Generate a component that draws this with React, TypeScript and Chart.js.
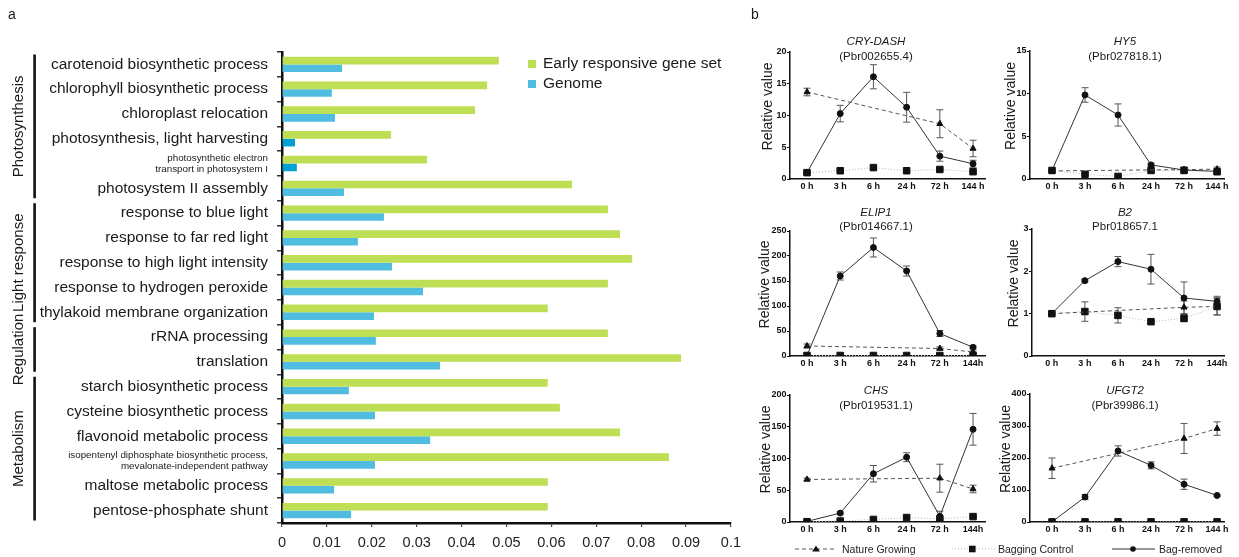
import React, { useEffect, useRef } from 'react';
import { Chart, registerables } from 'chart.js';
Chart.register(...registerables);

const FONT = '"Liberation Sans", Arial, Helvetica, sans-serif';

// ---------- Panel a data ----------
const categories: (string | string[])[] = [
  'carotenoid biosynthetic process',
  'chlorophyll biosynthetic process',
  'chloroplast relocation',
  'photosynthesis, light harvesting',
  ['photosynthetic electron', 'transport in photosystem I'],
  'photosystem II assembly',
  'response to blue light',
  'response to far red light',
  'response to high light intensity',
  'response to hydrogen peroxide',
  'thylakoid membrane organization',
  'rRNA processing',
  'translation',
  'starch biosynthetic process',
  'cysteine biosynthetic process',
  'flavonoid metabolic process',
  ['isopentenyl diphosphate biosynthetic process,', 'mevalonate-independent pathway'],
  'maltose metabolic process',
  'pentose-phosphate shunt',
];
const earlyResponsive = [0.0483, 0.0457, 0.043, 0.0243, 0.0323, 0.0646, 0.0726, 0.0753, 0.078, 0.0726, 0.0592, 0.0726, 0.0889, 0.0592, 0.0619, 0.0753, 0.0862, 0.0592, 0.0592];
const genome = [0.0134, 0.0111, 0.0118, 0.0029, 0.0033, 0.0138, 0.0227, 0.0169, 0.0245, 0.0314, 0.0205, 0.0209, 0.0352, 0.0149, 0.0207, 0.033, 0.0207, 0.0116, 0.0154];
const darkGenomeRows = [3, 4];
const groupNames = ['Photosynthesis', 'Light response', 'Regulation', 'Metabolism'];
const groupStart = [0, 6, 11, 13];
const groupEnd = [5, 10, 12, 18];
const xTickStep = 0.01;

// ---------- Panel b data ----------
const timeLabelsA = ['0 h', '3 h', '6 h', '24 h', '72 h', '144 h'];
const timeLabelsB = ['0 h', '3 h', '6 h', '24 h', '72 h', '144h'];
const seriesNames = ['Nature Growing', 'Bagging Control', 'Bag-removed'];

const cryBagRemoved = [1.0, 10.3, 16.1, 11.3, 3.6, 2.4];
const cryBagRemovedSd = [0.05, 1.3, 1.9, 2.35, 0.8, 0.55];
const cryNature = [13.7, null, null, null, 8.7, 4.8];
const cryNatureSd = [0.6, null, null, null, 2.2, 1.3];
const cryBagging = [1.0, 1.3, 1.8, 1.3, 1.5, 1.15];
const cryBaggingSd = [0.1, 0.1, 0.15, 0.1, 0.1, 0.1];

const hy5BagRemoved = [1.0, 9.85, 7.5, 1.65, 1.05, 0.9];
const hy5BagRemovedSd = [0.1, 0.85, 1.3, 0.2, 0.35, 0.2];
const hy5Nature = [0.95, null, null, null, 1.1, 1.15];
const hy5NatureSd = [0.1, null, null, null, 0.2, 0.25];
const hy5Bagging = [1.0, 0.55, 0.3, 1.0, 1.0, 0.85];
const hy5BaggingSd = [0.05, 0.1, 0.05, 0.1, 0.1, 0.1];

const elipBagRemoved = [1, 160, 217, 170, 45, 17.5];
const elipBagRemovedSd = [0.5, 8, 19, 10, 6, 3];
const elipNature = [20, null, null, null, 15, 8];
const elipNatureSd = [4, null, null, null, 3, 2];
const elipBagging = [1, 1, 1, 1, 1, 1];
const elipBaggingSd = [0.2, 0.2, 0.2, 0.2, 0.2, 0.2];

const b2BagRemoved = [1.0, 1.78, 2.23, 2.05, 1.37, 1.29];
const b2BagRemovedSd = [0.03, 0.03, 0.12, 0.35, 0.38, 0.12];
const b2Nature = [1.0, null, null, null, 1.15, 1.17];
const b2NatureSd = [0.05, null, null, null, 0.15, 0.2];
const b2Bagging = [1.0, 1.05, 0.96, 0.81, 0.89, 1.17];
const b2BaggingSd = [0.03, 0.23, 0.18, 0.03, 0.08, 0.2];

const chsBagRemoved = [1, 14, 76, 102, 9, 146];
const chsBagRemovedSd = [0.5, 2, 13, 7, 8, 25];
const chsNature = [67, null, null, null, 69, 52];
const chsNatureSd = [2, null, null, null, 22, 6];
const chsBagging = [0.5, 1.5, 4, 7, 5, 8.5];
const chsBaggingSd = [0.3, 0.3, 1, 1, 1, 1];

const ufgtBagRemoved = [0.5, 78, 222, 177, 118, 83];
const ufgtBagRemovedSd = [0.5, 8, 16, 11, 16, 3];
const ufgtNature = [168, null, null, null, 261, 292];
const ufgtNatureSd = [32, null, null, null, 47, 21];
const ufgtBagging = [0.3, 0.5, 0.5, 0.5, 0.5, 0.5];
const ufgtBaggingSd = [0, 0, 0, 0, 0, 0];

const subplots = [
  { gene: 'CRY-DASH', acc: '(Pbr002655.4)', yMax: 20, yStep: 5, labels: timeLabelsA,
    br: cryBagRemoved, brSd: cryBagRemovedSd, ng: cryNature, ngSd: cryNatureSd, bc: cryBagging, bcSd: cryBaggingSd,
    area: [790, 52, 985, 179], xr: [-0.512, 5.36], titleX: 876, titleY: [41, 56], yTitleOff: 22 },
  { gene: 'HY5', acc: '(Pbr027818.1)', yMax: 15, yStep: 5, labels: timeLabelsA,
    br: hy5BagRemoved, brSd: hy5BagRemovedSd, ng: hy5Nature, ngSd: hy5NatureSd, bc: hy5Bagging, bcSd: hy5BaggingSd,
    area: [1030, 51, 1224, 179], xr: [-0.667, 5.21], titleX: 1125, titleY: [41, 56], yTitleOff: 19 },
  { gene: 'ELIP1', acc: '(Pbr014667.1)', yMax: 250, yStep: 50, labels: timeLabelsB,
    br: elipBagRemoved, brSd: elipBagRemovedSd, ng: elipNature, ngSd: elipNatureSd, bc: elipBagging, bcSd: elipBaggingSd,
    area: [790, 231, 985, 356], xr: [-0.512, 5.36], titleX: 876, titleY: [212, 226], yTitleOff: 25 },
  { gene: 'B2', acc: 'Pbr018657.1', yMax: 3, yStep: 1, labels: timeLabelsB,
    br: b2BagRemoved, brSd: b2BagRemovedSd, ng: b2Nature, ngSd: b2NatureSd, bc: b2Bagging, bcSd: b2BaggingSd,
    area: [1032, 229, 1224, 356], xr: [-0.6, 5.21], titleX: 1125, titleY: [212, 226], yTitleOff: 18 },
  { gene: 'CHS', acc: '(Pbr019531.1)', yMax: 200, yStep: 50, labels: timeLabelsB,
    br: chsBagRemoved, brSd: chsBagRemovedSd, ng: chsNature, ngSd: chsNatureSd, bc: chsBagging, bcSd: chsBaggingSd,
    area: [790, 395, 985, 522], xr: [-0.512, 5.36], titleX: 876, titleY: [390, 405], yTitleOff: 24 },
  { gene: 'UFGT2', acc: '(Pbr39986.1)', yMax: 400, yStep: 100, labels: timeLabelsA,
    br: ufgtBagRemoved, brSd: ufgtBagRemovedSd, ng: ufgtNature, ngSd: ufgtNatureSd, bc: ufgtBagging, bcSd: ufgtBaggingSd,
    area: [1030, 394, 1224, 522], xr: [-0.667, 5.21], titleX: 1125, titleY: [390, 405], yTitleOff: 24 },
];

const GREEN = '#bedf55';
const BLUE = '#50bde0';
const DARK_BLUE = '#02a1d3';

// ---------- Panel a ----------
const groupPlugin = {
  id: 'groupsAndLegend',
  afterDraw(chart: any) {
    const { ctx } = chart;
    const y = chart.scales.y;
    const step = y.getPixelForValue(1) - y.getPixelForValue(0);
    ctx.save();
    groupNames.forEach((name, g) => {
      const top = y.getPixelForValue(groupStart[g]) - step / 2 + 2.5;
      const bot = y.getPixelForValue(groupEnd[g]) + step / 2 - 2.5;
      ctx.fillStyle = '#111';
      ctx.fillRect(33.3, top, 2.6, bot - top);
      ctx.save();
      ctx.translate(18.5, (top + bot) / 2);
      ctx.rotate(-Math.PI / 2);
      ctx.font = `15px ${FONT}`;
      ctx.textAlign = 'center';
      ctx.textBaseline = 'middle';
      ctx.fillStyle = '#1a1a1a';
      ctx.fillText(name, 0, 0);
      ctx.restore();
    });
    // legend
    const items = chart.data.datasets.map((d: any) => d.label);
    const cols = [GREEN, BLUE];
    items.forEach((label: string, i: number) => {
      const cy = 64 + i * 20;
      ctx.fillStyle = cols[i];
      ctx.fillRect(528, cy - 4, 8, 8);
      ctx.fillStyle = '#1a1a1a';
      ctx.font = `15.5px ${FONT}`;
      ctx.textAlign = 'left';
      ctx.textBaseline = 'middle';
      ctx.fillText(label, 543, cy);
    });
    ctx.restore();
  },
};

const PANEL_A_W = 748;

function PanelA() {
  const ref = useRef<HTMLCanvasElement>(null);
  useEffect(() => {
    const chart = new Chart(ref.current!, {
      type: 'bar',
      data: {
        labels: categories as any,
        datasets: [
          { label: 'Early responsive gene set', data: earlyResponsive, backgroundColor: GREEN, categoryPercentage: 0.62, barPercentage: 1 },
          { label: 'Genome', data: genome, backgroundColor: genome.map((_, i) => (darkGenomeRows.includes(i) ? DARK_BLUE : BLUE)), categoryPercentage: 0.62, barPercentage: 1 },
        ],
      },
      options: {
        indexAxis: 'y',
        animation: false,
        responsive: false,
        layout: { padding: { top: 52, right: 10, left: 0, bottom: 0 } },
        plugins: { legend: { display: false }, tooltip: { enabled: false } },
        scales: {
          x: {
            type: 'linear', min: 0, max: 0.1,
            afterFit: (s: any) => { s.height = 34; },
            ticks: {
              stepSize: xTickStep, color: '#222', padding: 7,
              font: { family: FONT, size: 14.5 },
              callback: (v: any) => String(Number(Number(v).toFixed(2))),
            },
            grid: { drawOnChartArea: false, drawTicks: true, tickLength: 4, color: '#444', lineWidth: 1.2 },
            border: { display: true, color: '#111', width: 2.5 },
          },
          y: {
            afterFit: (s: any) => { s.width = 282; },
            ticks: {
              autoSkip: false, color: '#1a1a1a', padding: 9,
              font: (c: any) => ({ family: FONT, size: Array.isArray(categories[c.index]) ? 9.8 : 15.5, lineHeight: 1.15 }),
            },
            grid: { drawOnChartArea: false, drawTicks: true, tickLength: 5, color: '#333', lineWidth: 1.5, offset: true },
            border: { display: true, color: '#111', width: 2.5 },
          },
        },
      } as any,
      plugins: [groupPlugin],
    });
    return () => chart.destroy();
  }, []);
  return <canvas ref={ref} width={PANEL_A_W} height={557} style={{ position: 'absolute', left: 0, top: 0, width: PANEL_A_W, height: 557 }} />;
}

// ---------- Panel b ----------
const errorBarPlugin = {
  id: 'errorBars',
  beforeDatasetsDraw(chart: any) {
    const { ctx } = chart;
    const x = chart.scales.x;
    const y = chart.scales.y;
    ctx.save();
    ctx.strokeStyle = '#555';
    ctx.lineWidth = 1;
    chart.data.datasets.forEach((ds: any) => {
      const sd = ds.errorBars;
      if (!sd) return;
      ds.data.forEach((p: any, i: number) => {
        if (p.y == null || sd[i] == null || sd[i] === 0) return;
        const px = x.getPixelForValue(p.x);
        const top = y.getPixelForValue(p.y + sd[i]);
        const bot = y.getPixelForValue(Math.max(0, p.y - sd[i]));
        ctx.beginPath();
        ctx.moveTo(px, top); ctx.lineTo(px, bot);
        ctx.moveTo(px - 3.5, top); ctx.lineTo(px + 3.5, top);
        ctx.moveTo(px - 3.5, bot); ctx.lineTo(px + 3.5, bot);
        ctx.stroke();
      });
    });
    ctx.restore();
  },
};

const yTitlePlugin = {
  id: 'yTitle',
  afterDraw(chart: any) {
    const { ctx, chartArea } = chart;
    const off = chart.options.plugins.yTitle.offset;
    ctx.save();
    ctx.translate(chartArea.left - off, (chartArea.top + chartArea.bottom) / 2 - 9);
    ctx.rotate(-Math.PI / 2);
    ctx.font = `14px ${FONT}`;
    ctx.fillStyle = '#1a1a1a';
    ctx.textAlign = 'center';
    ctx.textBaseline = 'middle';
    ctx.fillText('Relative value', 0, 0);
    ctx.restore();
  },
};

const PAD_L = 45, PAD_T = 30, PAD_R = 10, PAD_B = 18;

function SubPlot({ sp }: { sp: typeof subplots[number] }) {
  const ref = useRef<HTMLCanvasElement>(null);
  const [l, t, r, b] = sp.area;
  const w = r - l + PAD_L + PAD_R;
  const h = b - t + PAD_T + PAD_B;
  useEffect(() => {
    const pts = (vals: (number | null)[]) => vals.map((v, i) => ({ x: i, y: v }));
    const chart = new Chart(ref.current!, {
      type: 'line',
      data: {
        datasets: [
          { label: seriesNames[2], data: pts(sp.br), borderColor: '#333', borderWidth: 1, pointStyle: 'circle', pointRadius: 3,
            pointBackgroundColor: '#111', pointBorderColor: '#111', errorBars: sp.brSd },
          { label: seriesNames[0], data: pts(sp.ng), borderColor: '#555', borderWidth: 1, borderDash: [4, 3], pointStyle: 'triangle', pointRadius: 3.5,
            pointBackgroundColor: '#111', pointBorderColor: '#111', spanGaps: true, errorBars: sp.ngSd },
          { label: seriesNames[1], data: pts(sp.bc), borderColor: '#b5b5b5', borderWidth: 1, borderDash: [1, 2], pointStyle: 'rect', pointRadius: 4.6,
            pointBackgroundColor: '#111', pointBorderColor: '#111', errorBars: sp.bcSd },
        ] as any,
      },
      options: {
        animation: false,
        responsive: false,
        layout: { padding: { top: PAD_T, right: PAD_R, left: 0, bottom: 0 } },
        plugins: { legend: { display: false }, tooltip: { enabled: false }, yTitle: { offset: sp.yTitleOff } },
        scales: {
          x: {
            type: 'linear', min: sp.xr[0], max: sp.xr[1],
            afterFit: (s: any) => { s.height = PAD_B; },
            ticks: {
              stepSize: 1, includeBounds: false, autoSkip: false, maxRotation: 0, padding: 2, color: '#111',
              font: { family: FONT, size: 9, weight: 'bold' },
              callback: (v: any) => sp.labels[v] ?? '',
            },
            grid: { drawOnChartArea: false, drawTicks: false },
            border: { display: true, color: '#111', width: 1.5 },
          },
          y: {
            min: 0, max: sp.yMax,
            afterFit: (s: any) => { s.width = PAD_L; },
            ticks: { stepSize: sp.yStep, padding: 0.5, color: '#111', font: { family: FONT, size: 9, weight: 'bold' } },
            grid: { drawOnChartArea: false, drawTicks: true, tickLength: 3, color: '#111', lineWidth: 1 },
            border: { display: true, color: '#111', width: 1.5 },
          },
        },
      } as any,
      plugins: [errorBarPlugin, yTitlePlugin],
    });
    return () => chart.destroy();
  }, []);
  return (
    <>
      <canvas ref={ref} width={w} height={h} style={{ position: 'absolute', left: l - PAD_L, top: t - PAD_T, width: w, height: h }} />
      <div style={{ position: 'absolute', left: sp.titleX - 100, width: 200, top: sp.titleY[0] - 7, height: 14, lineHeight: '14px', textAlign: 'center', fontSize: 11.5, fontStyle: 'italic', color: '#1a1a1a' }}>{sp.gene}</div>
      <div style={{ position: 'absolute', left: sp.titleX - 100, width: 200, top: sp.titleY[1] - 7, height: 14, lineHeight: '14px', textAlign: 'center', fontSize: 11.5, color: '#1a1a1a' }}>{sp.acc}</div>
    </>
  );
}

function BottomLegend() {
  const y = 549;
  return (
    <svg width={1239} height={557} style={{ position: 'absolute', left: 0, top: 0, pointerEvents: 'none' }}>
      <line x1={795} x2={837} y1={y} y2={y} stroke="#555" strokeWidth={1} strokeDasharray="4 3" />
      <polygon points={`816,${y - 3.5} 812.2,${y + 2.5} 819.8,${y + 2.5}`} fill="#111" />
      <text x={842} y={y} dominantBaseline="central" fontFamily={FONT} fontSize={10.5} fill="#222">{seriesNames[0]}</text>
      <line x1={952} x2={995} y1={y} y2={y} stroke="#b5b5b5" strokeWidth={1} strokeDasharray="1 2" />
      <rect x={969} y={y - 3.3} width={6.6} height={6.6} fill="#111" />
      <text x={998} y={y} dominantBaseline="central" fontFamily={FONT} fontSize={10.5} fill="#222">{seriesNames[1]}</text>
      <line x1={1112} x2={1155} y1={y} y2={y} stroke="#333" strokeWidth={1} />
      <circle cx={1133} cy={y} r={2.8} fill="#111" />
      <text x={1159} y={y} dominantBaseline="central" fontFamily={FONT} fontSize={10.5} fill="#222">{seriesNames[2]}</text>
    </svg>
  );
}

export default function App() {
  return (
    <div style={{ position: 'absolute', left: 0, top: 0, width: 1239, height: 557, background: '#fff', fontFamily: FONT, overflow: 'hidden' }}>
      <PanelA />
      {subplots.map((sp) => <SubPlot key={sp.gene} sp={sp} />)}
      <BottomLegend />
      <div style={{ position: 'absolute', left: 8, top: 5, fontSize: 14, lineHeight: '18px', color: '#1a1a1a' }}>a</div>
      <div style={{ position: 'absolute', left: 751, top: 5, fontSize: 14, lineHeight: '18px', color: '#1a1a1a' }}>b</div>
    </div>
  );
}
